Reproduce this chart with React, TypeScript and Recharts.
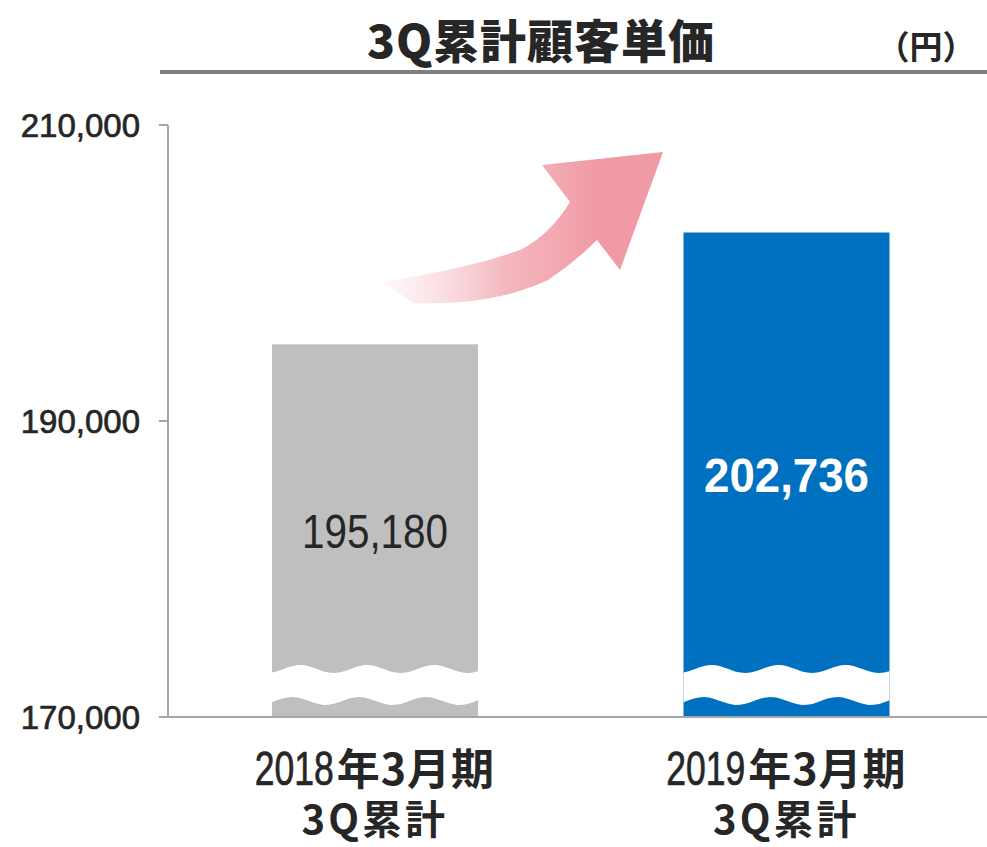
import React from "react";
import { BarChart, Bar, XAxis, YAxis, LabelList } from "recharts";

const periods = ["2018年3月期", "2019年3月期"];
const subLabel = "3Q累計";
const unitPrice = [195180, 202736];
const barColors = ["#bfbfbf", "#0070c0"];
const labelColors = ["#262626", "#ffffff"];
const yTicks = [170000, 190000, 210000];

const data = periods.map((p, i) => ({ period: p, value: unitPrice[i] }));

const AXIS = "#a6a6a6";
const CJK = "'Noto Sans CJK JP', 'Noto Sans', sans-serif";
const SANS = "'Liberation Sans', Arial, sans-serif";

// bar with the white "broken axis" band near its base
function BrokenBar(props: any) {
  const { x, y, width, height, fill } = props;
  const bottom = y + height;
  const wave = (c: number, phase: number, reverse: boolean) => {
    const pts: string[] = [];
    const n = 40;
    for (let k = 0; k <= n; k++) {
      const t = reverse ? width - (width * k) / n : (width * k) / n;
      const yy = c - 4 * Math.cos((2 * Math.PI * (t - phase)) / 67);
      pts.push(`${(x + t).toFixed(1)},${yy.toFixed(1)}`);
    }
    return pts;
  };
  const top = wave(bottom - 48, 28, false);
  const low = wave(bottom - 16, 20, true);
  const d = `M${top.join(" L")} L${low.join(" L")} Z`;
  return (
    <g>
      <rect x={x} y={y} width={width} height={height} fill={fill} />
      <path d={d} fill="#ffffff" />
    </g>
  );
}

function ValueLabel(props: any) {
  const { x, y, width, height, index, value } = props;
  const blue = index === 1;
  return (
    <text
      x={x + width / 2}
      y={y + height / 2 + 17}
      textAnchor="middle"
      fill={labelColors[index]}
      fontFamily={SANS}
      fontWeight={blue ? 700 : 400}
      fontSize={48}
      textLength={blue ? 165 : 146}
      lengthAdjust="spacingAndGlyphs"
    >
      {Number(value).toLocaleString("en-US")}
    </text>
  );
}

function PeriodTick(props: any) {
  const { x, y, payload } = props;
  const v: string = payload.value;
  const year = v.slice(0, 4);
  const rest = v.slice(4);
  const start = x - 120;
  return (
    <g fill="#262626">
      <text
        x={start}
        y={y + 60}
        fontFamily={SANS}
        fontSize={48}
        stroke="#262626"
        strokeWidth={0.7}
        textLength={79}
        lengthAdjust="spacingAndGlyphs"
      >
        {year}
      </text>
      <text x={start + 82} y={y + 60} fontFamily={CJK} fontWeight={700} fontSize={43} letterSpacing={1}>
        {rest}
      </text>
      <text
        x={x}
        y={y + 109}
        textAnchor="middle"
        fontFamily={CJK}
        fontWeight={700}
        fontSize={40}
        letterSpacing={3}
      >
        {subLabel}
      </text>
    </g>
  );
}

export default function App() {
  return (
    <div style={{ position: "absolute", left: 0, top: 0, width: 987, height: 847, background: "#fff" }}>
      <BarChart
        width={987}
        height={847}
        data={data}
        margin={{ top: 125, right: -5, bottom: 0, left: 0 }}
      >
        <XAxis
          dataKey="period"
          height={130}
          tickLine={false}
          axisLine={{ stroke: AXIS, strokeWidth: 2 }}
          padding={{ left: 1, right: 0 }}
          tick={<PeriodTick />}
          interval={0}
        />
        <YAxis
          width={168}
          domain={[170000, 210000]}
          ticks={yTicks}
          allowDataOverflow
          axisLine={{ stroke: AXIS, strokeWidth: 2 }}
          tickLine={{ stroke: AXIS, strokeWidth: 2 }}
          tickSize={9}
          tickMargin={19}
          tick={{ fill: "#262626", stroke: "#262626", strokeWidth: 0.7, fontSize: 33, fontFamily: SANS }}
          tickFormatter={(v: number) => v.toLocaleString("en-US")}
        />
        <Bar dataKey="value" barSize={206} isAnimationActive={false} shape={(p: any) => <BrokenBar {...p} fill={barColors[p.index]} />}>
          <LabelList dataKey="value" content={<ValueLabel />} />
        </Bar>
      </BarChart>

      <svg width={987} height={847} style={{ position: "absolute", left: 0, top: 0, pointerEvents: "none" }}>
        <defs>
          <linearGradient id="arrowFill" x1="383" y1="0" x2="600" y2="0" gradientUnits="userSpaceOnUse">
            <stop offset="0%" stopColor="#fdf0f2" stopOpacity={0.5} />
            <stop offset="55%" stopColor="#f3b5bd" stopOpacity={0.95} />
            <stop offset="100%" stopColor="#f09aa5" stopOpacity={1} />
          </linearGradient>
        </defs>
        <text x={541} y={58} textAnchor="middle" fill="#262626" fontFamily={CJK} fontWeight={900} fontSize={46} letterSpacing={1}>
          3Q累計顧客単価
        </text>
        <text x={926} y={59} textAnchor="middle" fill="#262626" fontFamily={CJK} fontWeight={700} fontSize={33}>
          （円）
        </text>
        <rect x={160} y={70} width={827} height={4} fill="#808080" />
        <path
          d="M383,282 C410,277 470,268 520,250 Q550,235 570,202 L542,165 L663,152 L620,270 L597,240 Q575,262 548,280 C520,293 480,305 413,303 Z"
          fill="url(#arrowFill)"
        />
      </svg>
    </div>
  );
}
